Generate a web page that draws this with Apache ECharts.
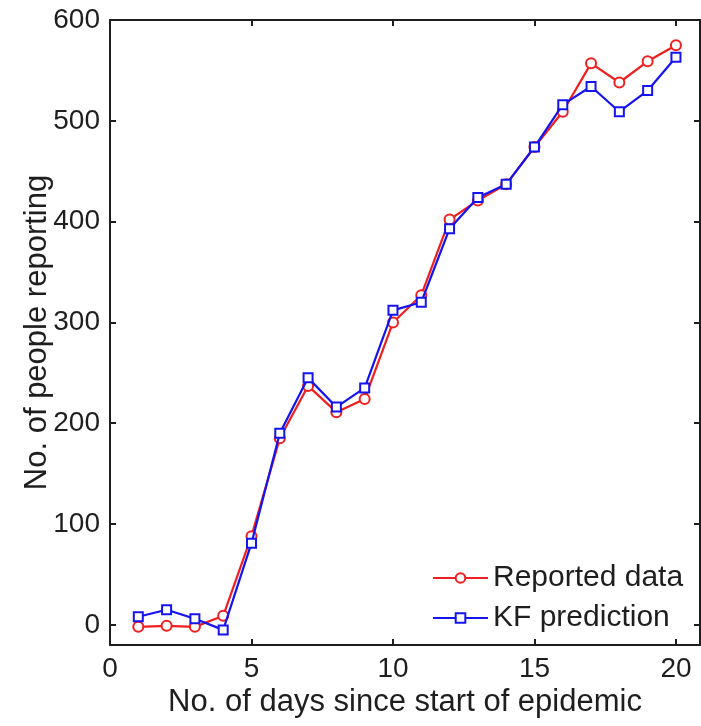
<!DOCTYPE html>
<html>
<head>
<meta charset="utf-8">
<script src="https://cdn.jsdelivr.net/npm/echarts@6/dist/echarts.min.js"></script>
<style>
  html, body { margin: 0; padding: 0; background: #ffffff; }
  #chart { width: 701px; height: 726px; }
</style>
</head>
<body>
<div id="chart"></div>
<script>
// Days since the start of the epidemic
const days = [1, 2, 3, 4, 5, 6, 7, 8, 9, 10, 11, 12, 13, 14, 15, 16, 17, 18, 19, 20];
// Number of people reporting, as reported
const reportedData = [-2, -1, -2, 9, 88, 185, 237, 211, 224, 300, 327, 402, 421, 437, 474, 509, 557, 538, 559, 575];
// Kalman filter prediction of the same count
const kfPrediction = [8, 15, 6, -5, 81, 190, 245, 216, 235, 312, 320, 393, 424, 437, 474, 516, 534, 509, 530, 563];
// Axis tick labels
const xTicks = [0, 5, 10, 15, 20];
const yTicks = [0, 100, 200, 300, 400, 500, 600];

const FONT = '"Liberation Sans", Arial, Helvetica, sans-serif';
const INK = '#1e1e1e';

const pairs = (xs, ys) => xs.map((x, i) => [x, ys[i]]);

// Shared style for the four sides of the axes box: ticks point inwards
function boxAxis(extra) {
  return Object.assign({
    axisLine: { show: true, onZero: false, lineStyle: { color: INK, width: 2 } },
    axisTick: { show: true, inside: true, length: 6, lineStyle: { color: INK, width: 2 } },
    splitLine: { show: false }
  }, extra);
}

const chart = echarts.init(document.getElementById('chart'), null, { renderer: 'canvas' });

chart.setOption({
  backgroundColor: '#ffffff',
  animation: false,
  grid: { left: 110, right: 1, top: 20, bottom: 81, containLabel: false },
  legend: {
    orient: 'vertical',
    left: 427,
    top: 558,
    itemWidth: 55,
    itemHeight: 12,
    itemGap: 10,
    textStyle: { fontFamily: FONT, fontSize: 30, color: INK, lineHeight: 30 },
    data: ['Reported data', 'KF prediction']
  },
  xAxis: [
    boxAxis({
      type: 'value',
      position: 'bottom',
      min: 0,
      max: 20.85,
      interval: 5,
      name: 'No. of days since start of epidemic',
      nameLocation: 'middle',
      nameGap: 42,
      nameMoveOverlap: false,
      nameTextStyle: { fontFamily: FONT, fontSize: 31, color: INK },
      axisLabel: {
        fontFamily: FONT, fontSize: 28, color: INK, margin: 10,
        showMaxLabel: false,
        formatter: v => (xTicks.indexOf(v) >= 0 ? String(v) : '')
      }
    }),
    boxAxis({
      type: 'value', position: 'top', min: 0, max: 20.85, interval: 5,
      axisLabel: { show: false }
    })
  ],
  yAxis: [
    boxAxis({
      type: 'value',
      position: 'left',
      min: -20,
      max: 600,
      splitNumber: 6,
      name: 'No. of people reporting',
      nameLocation: 'middle',
      nameGap: 57,
      nameMoveOverlap: false,
      nameTextStyle: { fontFamily: FONT, fontSize: 31, color: INK },
      axisLabel: {
        fontFamily: FONT, fontSize: 28, color: INK, margin: 10,
        showMinLabel: false,
        formatter: v => (yTicks.indexOf(v) >= 0 ? String(v) : '')
      }
    }),
    boxAxis({
      type: 'value', position: 'right', min: -20, max: 600, splitNumber: 6,
      axisLabel: { show: false }
    })
  ],
  series: [
    {
      name: 'Reported data',
      type: 'line',
      data: pairs(days, reportedData),
      symbol: 'emptyCircle',
      symbolSize: 10,
      lineStyle: { color: '#f01e1e', width: 2.2 },
      itemStyle: { color: '#f01e1e', borderWidth: 2 },
      z: 2
    },
    {
      name: 'KF prediction',
      type: 'line',
      data: pairs(days, kfPrediction),
      symbol: 'emptyRect',
      symbolSize: 9,
      lineStyle: { color: '#1414ee', width: 2.2 },
      itemStyle: { color: '#1414ee', borderWidth: 2 },
      z: 3
    }
  ]
});
</script>
</body>
</html>
